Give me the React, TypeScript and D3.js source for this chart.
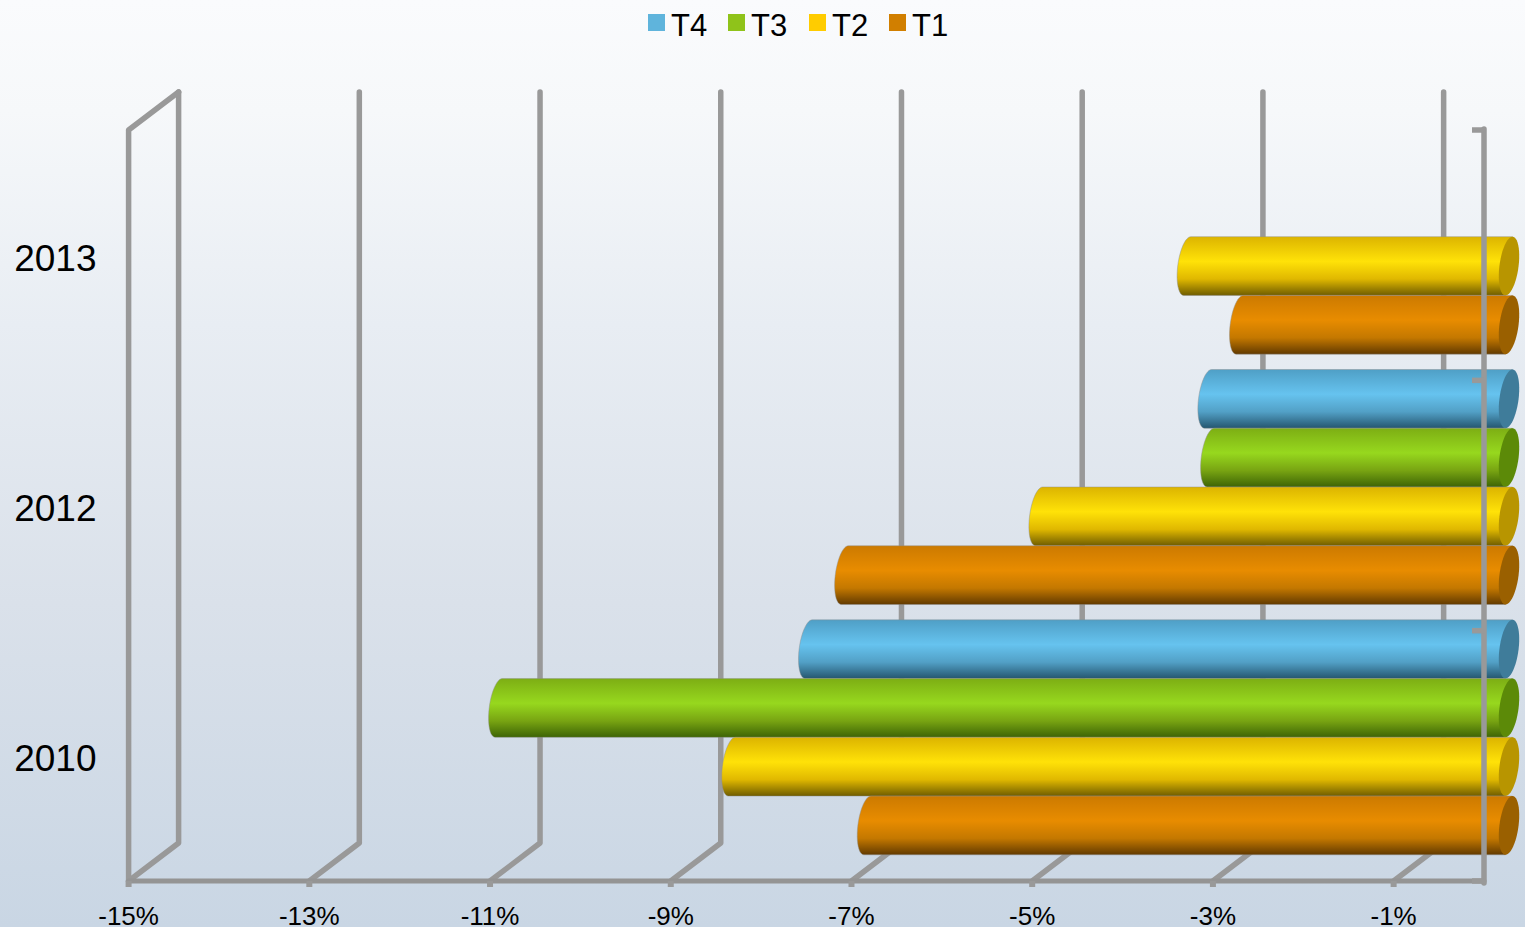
import React from "react";
import * as d3 from "d3";

const categories = ["2013", "2012", "2010"];
const t4 = [null, -3.33, -7.75];
const t3 = [null, -3.3, -11.18];
const t2 = [-3.56, -5.2, -8.6];
const t1 = [-2.98, -7.35, -7.1];
const tickValues = [-15, -13, -11, -9, -7, -5, -3, -1];
const seriesNames = ["T4", "T3", "T2", "T1"];
const seriesValues = [t4, t3, t2, t1];
const legendColors = ["#5fb4dc", "#8fc31a", "#ffcc00", "#d17f00"];
const capColors = ["#3f7c9a", "#5c8a08", "#b89500", "#9a6000"];
const gradientStops = [
  ["#4f9fc6", "#66c3ef", "#52a0c6", "#25566f"],
  ["#7dae14", "#97d81e", "#78a412", "#3d6405"],
  ["#dcb400", "#ffe208", "#e0b800", "#6f5c00"],
  ["#cc7a00", "#e88c00", "#c47800", "#623a00"],
];

const W = 1525;
const H = 927;
const x = d3.scaleLinear().domain([-15, 0]).range([128.6, 1484]);
const y = d3.scaleBand<string>().domain(categories).range([130, 881]);
const inner = d3.scaleBand<string>().domain(seriesNames).range([0, 235]);
const depthX = 50;
const depthY = 38;
const grey = "#999999";

const RX = 9.6;
const SHEAR = -0.12;
const angles = d3.range(0, 25).map((i) => (i / 24) * Math.PI);
const outline = d3.line<[number, number]>().x((d) => d[0]).y((d) => d[1]);

function ellipsePoint(cx: number, cy: number, ry: number, t: number): [number, number] {
  const dy = ry * Math.sin(t);
  return [cx + RX * Math.cos(t) + SHEAR * dy, cy + dy];
}

function bodyPath(x0: number, x1: number, cy: number, ry: number) {
  const left = angles.map((a) => ellipsePoint(x0, cy, ry, Math.PI / 2 + a));
  const right: [number, number][] = [
    ellipsePoint(x1, cy, ry, -Math.PI / 2),
    ellipsePoint(x1, cy, ry, Math.PI / 2),
  ];
  return outline([...left, ...right]) + "Z";
}

function capPath(cx: number, cy: number, ry: number) {
  const pts = d3.range(0, 49).map((i) => ellipsePoint(cx, cy, ry, (i / 48) * 2 * Math.PI));
  return outline(pts) + "Z";
}

export default function App() {
  const bw = y.bandwidth();
  const topY = y.range()[0];
  const botY = y.range()[1];
  const offX = 25;
  const band = inner.bandwidth();
  const barTop = (cat: string, s: string) => y(cat)! + (bw - 235) / 2 + inner(s)! - 19 + 0.5;
  return (
    <svg
      width={W}
      height={H}
      style={{ position: "absolute", left: 0, top: 0, display: "block", fontFamily: "'Liberation Sans', Arial, sans-serif" }}
    >
      <defs>
        <linearGradient id="bg" x1="0" y1="0" x2="0" y2="1">
          <stop offset="0" stopColor="#fafbfd" />
          <stop offset="0.12" stopColor="#f6f8fa" />
          <stop offset="0.35" stopColor="#e8edf3" />
          <stop offset="0.65" stopColor="#dae1ea" />
          <stop offset="1" stopColor="#c9d6e4" />
        </linearGradient>
        {seriesNames.map((s, i) => (
          <linearGradient key={s} id={`g${s}`} x1="0" y1="0" x2="0" y2="1">
            <stop offset="0" stopColor={gradientStops[i][0]} />
            <stop offset="0.42" stopColor={gradientStops[i][1]} />
            <stop offset="0.72" stopColor={gradientStops[i][2]} />
            <stop offset="1" stopColor={gradientStops[i][3]} />
          </linearGradient>
        ))}
      </defs>
      <rect width={W} height={H} fill="url(#bg)" />

      {/* legend */}
      {seriesNames.map((s, i) => {
        const lx = [648, 728, 809, 889][i];
        return (
          <g key={s}>
            <rect x={lx} y={14} width={17} height={17} fill={legendColors[i]} />
            <text x={lx + 23} y={36} fontSize={31} fill="#000">{s}</text>
          </g>
        );
      })}

      {/* walls and floor */}
      <g stroke={grey} strokeWidth={5.5} fill="none" strokeLinecap="round" strokeLinejoin="round">
        {tickValues.map((t) => (
          <path
            key={t}
            d={`M${x(t)},${botY}L${x(t) + depthX},${botY - depthY}L${x(t) + depthX},${topY - depthY}`}
          />
        ))}
        <path d={`M${x(-15)},${botY}L${x(-15)},${topY}L${x(-15) + depthX},${topY - depthY}`} />
        <path d={`M${x(-15)},${botY}L${x(0)},${botY}`} stroke="#949494" strokeWidth={5} />
        {tickValues.map((t) => (
          <line key={t} x1={x(t)} x2={x(t)} y1={botY} y2={botY + 6} strokeLinecap="butt" strokeWidth={6} />
        ))}
      </g>

      {/* bars */}
      {categories.map((cat, ci) =>
        seriesNames.map((s, si) => {
          const v = seriesValues[si][ci];
          if (v === null) return null;
          const top = barTop(cat, s);
          const ry = band / 2;
          const cy = top + ry;
          const x0 = x(v) + offX;
          const x1 = x(0) + offX;
          return (
            <g key={cat + s}>
              <path d={bodyPath(x0, x1, cy, ry)} fill={`url(#g${s})`} stroke="#8f8f8f" strokeOpacity={0.45} strokeWidth={1} />
              <path d={capPath(x1, cy, ry)} fill={capColors[si]} />
            </g>
          );
        })
      )}

      {/* front right axis */}
      <g stroke={grey} strokeWidth={5.5} fill="none">
        <line x1={x(0)} x2={x(0)} y1={topY - 1} y2={botY + 2} strokeLinecap="round" />
        {[...categories.map((c) => y(c)!), botY].map((ty) => (
          <line key={ty} x1={x(0) - 12} x2={x(0)} y1={ty} y2={ty} />
        ))}
      </g>

      {/* labels */}
      {categories.map((cat, i) => (
        <text key={cat} x={96.5} y={y(cat)! + bw / 2 + 15.6 - i * 0.3} textAnchor="end" fontSize={37} fill="#000">{cat}</text>
      ))}
      {tickValues.map((t) => (
        <text key={t} x={x(t)} y={924.5} textAnchor="middle" fontSize={26} fill="#000">{`${t}%`}</text>
      ))}
    </svg>
  );
}
